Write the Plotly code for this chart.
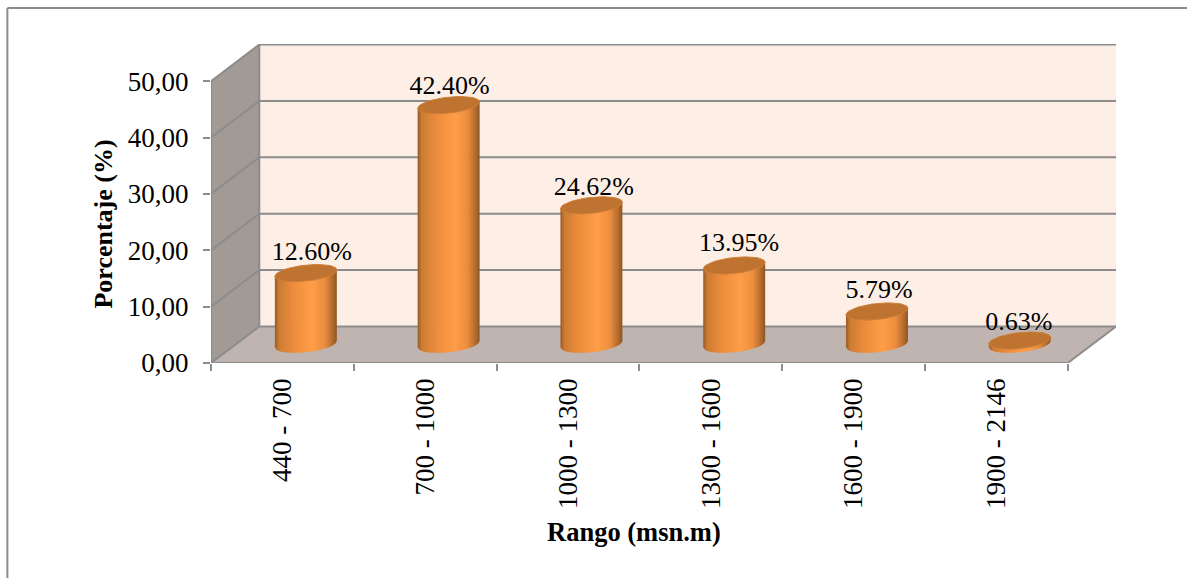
import math
import plotly.graph_objects as go

categories = ["440 - 700", "700 - 1000", "1000 - 1300", "1300 - 1600", "1600 - 1900", "1900 - 2146"]
percentages = [12.60, 42.40, 24.62, 13.95, 5.79, 0.63]
value_labels = ["12.60%", "42.40%", "24.62%", "13.95%", "5.79%", "0.63%"]
y_ticks = [0, 10, 20, 30, 40, 50]

# plot geometry (pixels)
W, H = 1187, 578
LEFT, RIGHT_FRONT, RIGHT = 210.7, 1067.5, 1116.0
TOP, BOTTOM = 44.0, 362.6
PX_Y = 5.63
PX_X = (RIGHT_FRONT - LEFT) / 6
DX = 48.3 / PX_X          # depth in x units
DY = 36.5 / PX_Y          # depth in y units
RX = 31 / PX_X            # cylinder radius in x units
RY = 8.0 / PX_Y           # ellipse half-height in y units
TILT = 3.2 / PX_Y         # ellipse tilt
xmin, xmax = 0.5, 6.5 + DX
ymax = (BOTTOM - TOP) / PX_Y
GRID = "#8c8c8c"
# per-label nudges in pixels, as placed in the reference
LABEL_NUDGE_X = [6, 1, 2.5, 5, 2, -1]
LABEL_NUDGE_Y = [2, 4, 5.5, 1, 2, 5]

fig = go.Figure()


def poly(xs, ys, color, line=None, width=0):
    fig.add_trace(go.Scatter(x=xs, y=ys, mode="lines", fill="toself", fillcolor=color,
                             line=dict(color=line or color, width=width),
                             hoverinfo="skip", showlegend=False, cliponaxis=False))


def polyline(xs, ys, color=GRID, width=2):
    fig.add_trace(go.Scatter(x=xs, y=ys, mode="lines", line=dict(color=color, width=width),
                             hoverinfo="skip", showlegend=False, cliponaxis=False))


# walls and floor
poly([xmin + DX, 6.5 + DX, 6.5 + DX, xmin + DX, xmin + DX], [DY, DY, 50 + DY, 50 + DY, DY], "#fdeee6")
poly([xmin, xmin + DX, xmin + DX, xmin, xmin], [0, DY, 50 + DY, 50, 0], "#a29a95")
poly([xmin, 6.5, 6.5 + DX, xmin + DX, xmin], [0, 0, DY, DY, 0], "#bfb4af")

# grid lines
for v in y_ticks:
    polyline([xmin, xmin + DX, 6.5 + DX], [v, v + DY, v + DY])
polyline([xmin + DX, xmin + DX], [DY, 50 + DY])
polyline([xmin, xmin], [0, 50])
polyline([xmin, 6.5, 6.5 + DX], [0, 0, DY])

# cylinders: vertical colour strips
stops = [(0.0, (150, 92, 38)), (0.07, (205, 124, 52)), (0.3, (236, 141, 60)),
         (0.6, (255, 157, 72)), (0.8, (236, 142, 62)), (0.93, (180, 108, 46)), (1.0, (140, 86, 36))]


def shade(t):
    for (a, ca), (b, cb) in zip(stops, stops[1:]):
        if t <= b:
            f = (t - a) / (b - a)
            return "rgb(%d,%d,%d)" % tuple(round(p + (q - p) * f) for p, q in zip(ca, cb))
    return "rgb(140,86,36)"


N = 36
centers = [i + 1 + DX / 2 - 0.7 / PX_X for i in range(6)]
base = DY / 2 + 0.1
for i in range(N):
    u0 = -1 + 2 * i / N
    u1 = min(1, -1 + 2 * (i + 1.4) / N)
    xs, ys = [], []
    for c, p in zip(centers, percentages):
        b0 = base - RY * math.sqrt(max(0, 1 - u0 * u0)) + TILT * u0
        b1 = base - RY * math.sqrt(max(0, 1 - u1 * u1)) + TILT * u1
        t0 = base + p + TILT * u0
        t1 = base + p + TILT * u1
        xs += [c + RX * u0, c + RX * u1, c + RX * u1, c + RX * u0, c + RX * u0, None]
        ys += [b0, b1, t1, t0, b0, None]
    poly(xs, ys, shade((i + 0.5) / N))

# lids
lx, ly = [], []
for c, p in zip(centers, percentages):
    for k in range(61):
        a = 2 * math.pi * k / 60
        lx.append(c + RX * math.cos(a))
        ly.append(base + p + TILT * math.cos(a) + RY * math.sin(a))
    lx.append(None)
    ly.append(None)
poly(lx, ly, "#bf7330", line="#cf7f38", width=1)

# data labels
fig.add_trace(go.Scatter(
    x=[c + n / PX_X for c, n in zip(centers, LABEL_NUDGE_X)],
    y=[base + p + 3.9 - n / PX_Y for p, n in zip(percentages, LABEL_NUDGE_Y)],
    mode="text", text=value_labels,
    textposition="middle center", textfont=dict(family="Liberation Serif", size=26, color="#000000"),
    hoverinfo="skip", showlegend=False, cliponaxis=False))

fig.update_layout(
    width=W, height=H, autosize=False,
    margin=dict(l=LEFT, r=W - RIGHT, t=TOP, b=H - BOTTOM, pad=0),
    paper_bgcolor="#ffffff", plot_bgcolor="rgba(0,0,0,0)", separators=",.", showlegend=False,
    xaxis=dict(range=[xmin, xmax], showgrid=False, zeroline=False, showline=False,
               tickmode="array", tickvals=[1, 2, 3, 4, 5, 6], ticktext=categories, tickangle=-90,
               ticks="", tickfont=dict(family="Liberation Serif", size=27, color="#000000"),
               ticklabelstandoff=9,
               minor=dict(tickmode="array", tickvals=[0.5, 1.5, 2.5, 3.5, 4.5, 5.5, 6.5], ticks="outside",
                          ticklen=7, tickwidth=2, tickcolor=GRID, showgrid=False)),
    yaxis=dict(range=[0, ymax], showgrid=False, zeroline=False, showline=False,
               tickmode="array", tickvals=y_ticks, tickformat=".2f", ticks="outside",
               ticklen=7, tickwidth=2, tickcolor=GRID, ticklabelstandoff=9,
               tickfont=dict(family="Liberation Serif", size=27, color="#000000")),
    annotations=[
        dict(text="<b>Rango (msn.m)</b>", xref="paper", yref="paper", x=(633.5 - LEFT) / (RIGHT - LEFT),
             y=(BOTTOM - 531) / (BOTTOM - TOP), showarrow=False, xanchor="center", yanchor="middle",
             font=dict(family="Liberation Serif", size=26.5, color="#000000")),
        dict(text="<b>Porcentaje (%)</b>", xref="paper", yref="paper", x=(103 - LEFT) / (RIGHT - LEFT),
             y=(BOTTOM - 224) / (BOTTOM - TOP), showarrow=False, textangle=-90, xanchor="center",
             yanchor="middle", font=dict(family="Liberation Serif", size=26, color="#000000")),
    ],
    shapes=[dict(type="line", xref="paper", yref="paper", x0=(7 - LEFT) / (RIGHT - LEFT),
                 x1=(7 - LEFT) / (RIGHT - LEFT), y0=(BOTTOM - 8) / (BOTTOM - TOP),
                 y1=(BOTTOM - 578) / (BOTTOM - TOP), line=dict(color="#8c8c8c", width=2)),
            dict(type="line", xref="paper", yref="paper", x0=(7 - LEFT) / (RIGHT - LEFT),
                 x1=(1187 - LEFT) / (RIGHT - LEFT), y0=(BOTTOM - 8) / (BOTTOM - TOP),
                 y1=(BOTTOM - 8) / (BOTTOM - TOP), line=dict(color="#8c8c8c", width=2))],
)

fig.write_html("out.html", config={"displayModeBar": False},
               post_script="document.body.style.margin='0';document.body.style.overflow='hidden';")
